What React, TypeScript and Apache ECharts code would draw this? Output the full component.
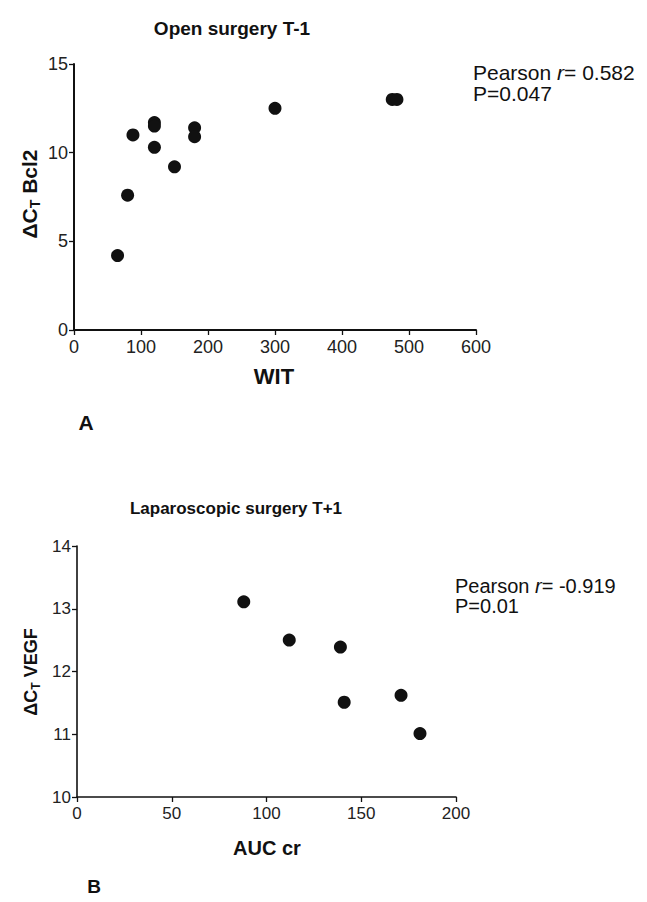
import React, { useEffect, useRef } from "react";
import * as echarts from "echarts";

// ---- Data ----
const openWIT = [65, 80, 88, 120, 120, 120, 150, 180, 180, 300, 475, 482];
const openBcl2 = [4.2, 7.6, 11.0, 11.7, 11.5, 10.3, 9.2, 11.4, 10.9, 12.5, 13.0, 13.0];

const lapAUC = [88, 112, 139, 141, 171, 181];
const lapVEGF = [13.11, 12.5, 12.39, 11.51, 11.62, 11.01];

const topXTicks = { min: 0, max: 600, interval: 100 };
const topYTicks = { min: 0, max: 15, interval: 5 };
const botXTicks = { min: 0, max: 200, interval: 50 };
const botYTicks = { min: 10, max: 14, interval: 1 };

const topTitle = "Open surgery T-1";
const botTitle = "Laparoscopic surgery T+1";
const topStats = ["0.582", "P=0.047"];
const botStats = ["-0.919", "P=0.01"];

const FF = "'Liberation Sans', Arial, Helvetica, sans-serif";
const INK = "#111";

function measure(text: string, font: string): number {
  const c = document.createElement("canvas");
  const ctx = c.getContext("2d");
  if (!ctx) return text.length * 10;
  ctx.font = font;
  return ctx.measureText(text).width;
}

// Rotated y-axis name with subscript T: "ΔC" + sub "T" + rest
function yName(cx: number, cy: number, size: number, rest: string) {
  const subSize = Math.round(size * 0.65);
  const f = `bold ${size}px ${FF}`;
  const fs = `bold ${subSize}px ${FF}`;
  const w1 = measure("ΔC", f);
  const w2 = measure("T", fs);
  const w3 = measure(rest, f);
  const total = w1 + w2 + w3;
  const x0 = -total / 2;
  const base = { fontFamily: FF, fontWeight: "bold", fill: INK, align: "left", verticalAlign: "middle" };
  return {
    type: "group",
    x: cx,
    y: cy,
    rotation: Math.PI / 2,
    children: [
      { type: "text", x: x0, y: 0, style: { ...base, text: "ΔC", fontSize: size } },
      { type: "text", x: x0 + w1, y: size * 0.28, style: { ...base, text: "T", fontSize: subSize } },
      { type: "text", x: x0 + w1 + w2, y: 0, style: { ...base, text: rest, fontSize: size } },
    ],
  };
}

function statText(x: number, y1: number, y2: number, size: number, r: string, p: string) {
  return [
    {
      type: "text",
      x,
      y: y1,
      style: {
        text: `{n|Pearson }{i|r}{n|= ${r}}`,
        verticalAlign: "middle",
        align: "left",
        rich: {
          n: { fontSize: size, fontFamily: FF, fill: INK, lineHeight: size },
          i: { fontSize: size, fontFamily: FF, fill: INK, fontStyle: "italic", lineHeight: size },
        },
      },
    },
    {
      type: "text",
      x,
      y: y2,
      style: { text: p, fontSize: size, fontFamily: FF, fill: INK, verticalAlign: "middle", align: "left", lineHeight: size },
    },
  ];
}

function label(text: string, x: number, y: number, size: number, bold = true) {
  return {
    type: "text",
    x,
    y,
    style: {
      text,
      fontSize: size,
      fontFamily: FF,
      fontWeight: bold ? "bold" : "normal",
      fill: INK,
      align: "center",
      verticalAlign: "middle",
    },
  };
}

function axisCommon(labelSize: number, margin: number, lineW: number) {
  return {
    type: "value" as const,
    axisLine: { show: true, onZero: false, lineStyle: { color: INK, width: lineW } },
    axisTick: { show: true, length: 5, lineStyle: { color: INK, width: 1.3 } },
    axisLabel: { margin, fontSize: labelSize, color: "#222", fontFamily: FF },
    splitLine: { show: false },
  };
}

export default function App() {
  const ref = useRef<HTMLDivElement>(null);

  useEffect(() => {
    document.body.style.margin = "0";
    if (!ref.current) return;
    const chart = echarts.init(ref.current, undefined, { renderer: "svg" });

    const option = {
      animation: false,
      backgroundColor: "#fff",
      grid: [
        { left: 74, top: 64, width: 402, height: 266 },
        { left: 77, top: 546, width: 379, height: 251 },
      ],
      xAxis: [
        { ...axisCommon(18, 8, 2), gridIndex: 0, ...topXTicks },
        { ...axisCommon(17, 8, 1.6), gridIndex: 1, ...botXTicks },
      ],
      yAxis: [
        { ...axisCommon(18, 6, 2), gridIndex: 0, ...topYTicks },
        { ...axisCommon(17, 6, 1.6), gridIndex: 1, ...botYTicks },
      ],
      series: [
        {
          type: "scatter",
          xAxisIndex: 0,
          yAxisIndex: 0,
          symbol: "circle",
          symbolSize: 13,
          itemStyle: { color: INK, opacity: 1 },
          data: openWIT.map((x, i) => [x, openBcl2[i]]),
        },
        {
          type: "scatter",
          xAxisIndex: 1,
          yAxisIndex: 1,
          symbol: "circle",
          symbolSize: 13,
          itemStyle: { color: INK, opacity: 1 },
          data: lapAUC.map((x, i) => [x, lapVEGF[i]]),
        },
      ],
      graphic: [
        label(topTitle, 232, 28, 19),
        label("WIT", 274, 376, 22),
        label("A", 86, 422, 21),
        yName(29, 194, 21, " Bcl2"),
        ...statText(473, 72, 93, 21, topStats[0], topStats[1]),
        label(botTitle, 236, 508, 17),
        label("AUC cr", 267, 848, 20),
        label("B", 94, 886, 19),
        yName(31, 672, 18, " VEGF"),
        ...statText(455, 586, 606, 20, botStats[0], botStats[1]),
      ],
    };

    chart.setOption(option as any);
    return () => chart.dispose();
  }, []);

  return <div ref={ref} style={{ width: 647, height: 902 }} />;
}
